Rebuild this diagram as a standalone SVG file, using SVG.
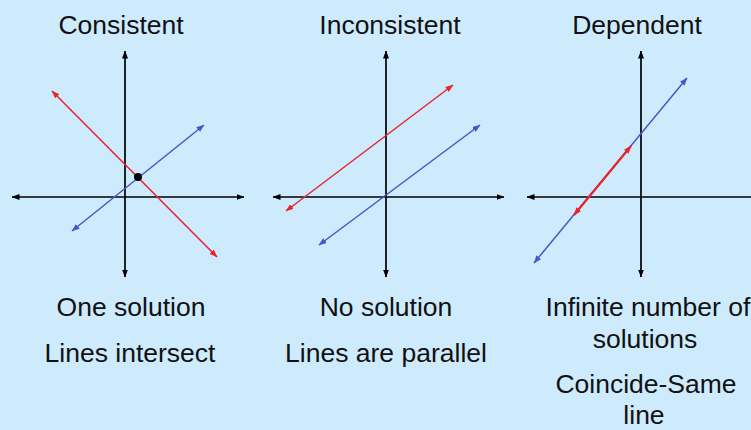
<svg xmlns="http://www.w3.org/2000/svg" width="751" height="430" viewBox="0 0 751 430">
  <style>
    text { font-family: "Liberation Sans", Arial, sans-serif; font-size: 26.5px; fill: #111; text-anchor: middle; }
    .axis { stroke: #000; stroke-width: 1.7; fill: none; marker-start: url(#ak); marker-end: url(#ak); }
    .red { stroke: #e8242c; stroke-width: 1.5; fill: none; marker-start: url(#ar); marker-end: url(#ar); }
    .blue { stroke: #4a55c8; stroke-width: 1.5; fill: none; marker-start: url(#ab); marker-end: url(#ab); }
  </style>
  <defs>
    <marker id="ak" viewBox="0 0 8 6" refX="7.5" refY="3" markerWidth="8" markerHeight="6" markerUnits="userSpaceOnUse" orient="auto-start-reverse"><path d="M0,0 L8,3 L0,6 z" fill="#000"/></marker>
    <marker id="ar" viewBox="0 0 8 6" refX="7.5" refY="3" markerWidth="8" markerHeight="6" markerUnits="userSpaceOnUse" orient="auto-start-reverse"><path d="M0,0 L8,3 L0,6 z" fill="#e8242c"/></marker>
    <marker id="ab" viewBox="0 0 8 6" refX="7.5" refY="3" markerWidth="8" markerHeight="6" markerUnits="userSpaceOnUse" orient="auto-start-reverse"><path d="M0,0 L8,3 L0,6 z" fill="#4a55c8"/></marker>
  </defs>
  <rect x="0" y="0" width="751" height="430" fill="#cdebfd"/>

  <g id="consistent">
    <text x="121" y="34">Consistent</text>
    <line class="axis" x1="125" y1="277" x2="125" y2="51"/>
    <line class="axis" x1="12" y1="197" x2="244" y2="197"/>
    <line class="red" x1="52" y1="91" x2="217" y2="257"/>
    <line class="blue" x1="72" y1="231" x2="204" y2="125"/>
    <circle cx="138" cy="177" r="4" fill="#000"/>
    <text x="131" y="315.5">One solution</text>
    <text x="130" y="362">Lines intersect</text>
  </g>

  <g id="inconsistent">
    <text x="390" y="34">Inconsistent</text>
    <line class="axis" x1="386" y1="277" x2="386" y2="51"/>
    <line class="axis" x1="273" y1="197" x2="504" y2="197"/>
    <line class="red" x1="286" y1="211" x2="453" y2="85"/>
    <line class="blue" x1="319" y1="245" x2="480" y2="125"/>
    <text x="386" y="315.5">No solution</text>
    <text x="386" y="362">Lines are parallel</text>
  </g>

  <g id="dependent">
    <text x="637" y="34">Dependent</text>
    <line class="axis" x1="641" y1="277" x2="641" y2="51"/>
    <line class="axis" x1="527" y1="197" x2="760" y2="197"/>
    <line class="blue" x1="534" y1="263" x2="687" y2="78"/>
    <line class="red" style="stroke-width:2.2" x1="574" y1="215" x2="631" y2="146"/>
    <text x="648" y="315.5">Infinite number of</text>
    <text x="645" y="348">solutions</text>
    <text x="646" y="393">Coincide-Same</text>
    <text x="644" y="424">line</text>
  </g>
</svg>
